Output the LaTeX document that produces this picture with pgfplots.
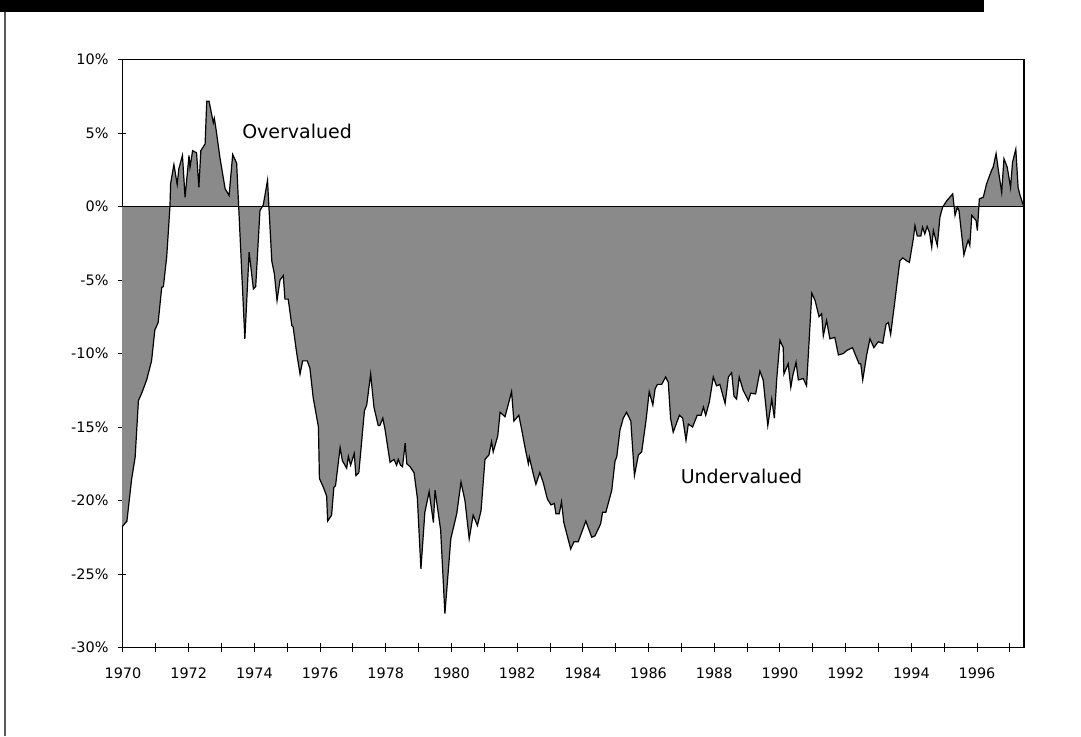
\documentclass[border=0pt]{standalone}
\usepackage{pgfplots}
\pgfplotsset{compat=1.18}
\usepackage{pgfplotstable}
\usepackage{fontspec}
\setmainfont{DejaVu Sans}
\definecolor{areagray}{RGB}{138,138,138}
\definecolor{frameline}{RGB}{90,90,90}

\pgfplotstableread{
year val
1969.97 -21.8
1970.12 -21.4
1970.26 -18.6
1970.37 -17.05
1970.47 -13.2
1970.57 -12.7
1970.72 -11.8
1970.87 -10.5
1970.97 -8.4
1971.07 -7.9
1971.18 -5.5
1971.23 -5.45
1971.33 -3.45
1971.43 0.0
1971.45 1.55
1971.55 2.86
1971.65 1.5
1971.70 2.56
1971.81 3.47
1971.89 0.63
1972.01 3.47
1972.04 2.67
1972.12 3.8
1972.24 3.65
1972.31 1.3
1972.37 3.8
1972.50 4.26
1972.55 7.16
1972.62 7.16
1972.75 5.7
1972.78 6.0
1972.83 5.3
1972.95 3.35
1973.11 1.2
1973.23 0.75
1973.34 3.54
1973.46 2.95
1973.52 0.1
1973.71 -9.0
1973.84 -3.1
1973.97 -5.6
1974.04 -5.45
1974.17 -0.27
1974.27 0.1
1974.40 1.77
1974.53 -3.7
1974.61 -4.6
1974.69 -6.4
1974.78 -5.0
1974.88 -4.7
1974.93 -6.3
1975.03 -6.3
1975.14 -8.1
1975.18 -8.2
1975.29 -10.0
1975.39 -11.4
1975.47 -10.5
1975.61 -10.5
1975.69 -11.0
1975.79 -13.0
1975.95 -15.0
1975.98 -18.5
1976.10 -19.1
1976.20 -19.7
1976.23 -21.4
1976.35 -21.0
1976.42 -19.1
1976.47 -19.0
1976.61 -16.4
1976.68 -17.3
1976.81 -17.8
1976.86 -17.0
1976.93 -17.6
1977.04 -16.8
1977.09 -18.3
1977.18 -18.1
1977.35 -13.9
1977.42 -13.5
1977.54 -11.4
1977.64 -13.65
1977.77 -14.9
1977.82 -14.9
1977.91 -14.4
1977.98 -15.2
1978.13 -17.4
1978.25 -17.2
1978.33 -17.6
1978.38 -17.2
1978.45 -17.6
1978.51 -17.7
1978.59 -16.1
1978.64 -17.5
1978.74 -17.7
1978.86 -18.1
1978.96 -19.8
1979.07 -24.65
1979.19 -20.8
1979.32 -19.4
1979.45 -21.5
1979.50 -19.3
1979.67 -22.0
1979.80 -27.7
1979.98 -22.6
1980.16 -20.9
1980.29 -18.75
1980.41 -20.0
1980.54 -22.6
1980.66 -21.0
1980.79 -21.7
1980.90 -20.7
1981.02 -17.2
1981.14 -16.9
1981.22 -16.0
1981.27 -16.7
1981.41 -15.6
1981.48 -14.0
1981.63 -14.3
1981.83 -12.6
1981.90 -14.6
1982.05 -14.2
1982.14 -15.2
1982.24 -16.4
1982.34 -17.5
1982.37 -17.05
1982.49 -18.2
1982.57 -18.9
1982.69 -18.1
1982.79 -18.75
1982.92 -19.9
1983.03 -20.3
1983.13 -20.2
1983.18 -20.9
1983.28 -20.9
1983.35 -20.1
1983.42 -21.5
1983.63 -23.3
1983.73 -22.8
1983.86 -22.8
1984.09 -21.4
1984.27 -22.5
1984.37 -22.4
1984.54 -21.6
1984.60 -20.8
1984.70 -20.8
1984.88 -19.3
1984.98 -17.3
1985.03 -17.05
1985.13 -15.2
1985.23 -14.4
1985.33 -14.0
1985.46 -14.6
1985.57 -18.3
1985.69 -16.9
1985.79 -16.7
1985.92 -14.6
1986.02 -12.6
1986.13 -13.5
1986.20 -12.4
1986.27 -12.1
1986.40 -12.1
1986.52 -11.6
1986.60 -11.95
1986.67 -14.4
1986.75 -15.35
1986.94 -14.2
1987.04 -14.4
1987.14 -15.9
1987.21 -14.8
1987.34 -15.0
1987.48 -14.2
1987.60 -14.2
1987.67 -13.65
1987.74 -14.2
1987.85 -13.3
1987.97 -11.6
1988.07 -12.2
1988.17 -12.1
1988.33 -13.4
1988.43 -11.6
1988.53 -11.3
1988.60 -12.9
1988.68 -13.1
1988.76 -11.6
1988.88 -12.5
1989.04 -13.2
1989.11 -12.7
1989.26 -12.75
1989.39 -11.2
1989.49 -11.8
1989.63 -14.9
1989.75 -13.1
1989.83 -14.4
1989.90 -11.8
1990.00 -9.1
1990.10 -9.6
1990.12 -11.4
1990.25 -10.7
1990.33 -12.3
1990.39 -11.5
1990.49 -10.6
1990.56 -11.8
1990.71 -11.7
1990.81 -12.2
1990.97 -5.9
1991.07 -6.4
1991.19 -7.5
1991.27 -7.3
1991.32 -8.8
1991.42 -7.75
1991.52 -9.0
1991.67 -8.9
1991.78 -10.1
1991.93 -10.0
1992.03 -9.8
1992.21 -9.6
1992.28 -10.0
1992.41 -10.7
1992.46 -10.7
1992.52 -11.8
1992.64 -10.1
1992.74 -9.0
1992.86 -9.6
1992.99 -9.2
1993.13 -9.3
1993.23 -8.0
1993.30 -7.9
1993.37 -8.7
1993.50 -6.4
1993.65 -3.7
1993.74 -3.5
1993.86 -3.7
1993.94 -3.8
1994.06 -2.2
1994.11 -1.3
1994.18 -2.0
1994.29 -2.0
1994.34 -1.4
1994.41 -1.86
1994.48 -1.36
1994.55 -1.75
1994.62 -2.77
1994.67 -1.63
1994.79 -2.65
1994.87 -0.73
1994.95 -0.05
1995.08 0.4
1995.26 0.86
1995.33 -0.6
1995.40 -0.05
1995.45 -0.27
1995.60 -3.3
1995.68 -2.65
1995.73 -2.3
1995.78 -2.65
1995.84 -0.6
1995.97 -0.95
1996.01 -1.63
1996.07 0.52
1996.19 0.63
1996.29 1.54
1996.44 2.45
1996.49 2.67
1996.58 3.6
1996.65 2.45
1996.75 0.97
1996.82 3.25
1996.92 2.67
1997.02 1.3
1997.08 3.0
1997.18 3.9
1997.25 1.3
1997.31 0.75
1997.39 0.2
1997.43 0.0
}\datatable

\begin{document}
\begin{tikzpicture}
\path[use as bounding box] (0,0) rectangle (540.5pt,368pt);
\fill[black] (0,362pt) rectangle (492pt,368pt);
\draw[frameline, line width=1.2pt] (2.5pt,0) -- (2.5pt,362pt);
\begin{axis}[
  at={(61pt,44.25pt)}, anchor=south west,
  scale only axis, width=451pt, height=294pt,
  xmin=1969.97, xmax=1997.43,
  ymin=-30, ymax=10,
  axis line style={line width=0.5pt},
  tick align=center,
  xtick pos=bottom, ytick pos=left,
  major tick length=4.5pt, minor tick length=4.5pt,
  tick style={black, line width=0.5pt},
  xtick={1970,1972,...,1996},
  minor xtick={1971,1973,...,1997},
  ytick={-30,-25,...,10},
  yticklabels={-30\%,-25\%,-20\%,-15\%,-10\%,-5\%,0\%,5\%,10\%},
  xticklabel style={font=\fontsize{7.2}{8}\selectfont, yshift=-4.5pt},
  yticklabel style={font=\fontsize{7.2}{8}\selectfont, xshift=-1pt},
  /pgf/number format/assume math mode=true,
  /pgf/number format/1000 sep={},
  clip=true,
]
\addplot[fill=areagray, draw=none] table[x=year, y=val] {\datatable} \closedcycle;
\addplot[black, line width=0.6pt] table[x=year, y=val] {\datatable};
\addplot[black, line width=0.7pt] coordinates {(1969.97,0) (1997.43,0)};
\draw[black, line width=1pt] (rel axis cs:0,0) -- (rel axis cs:1,0) -- (rel axis cs:1,1);
\node[font=\fontsize{9.5}{11}\selectfont] at (axis cs:1975.30,5.1) {Overvalued};
\node[font=\fontsize{9.5}{11}\selectfont] at (axis cs:1988.83,-18.33) {Undervalued};
\end{axis}
\end{tikzpicture}
\end{document}
